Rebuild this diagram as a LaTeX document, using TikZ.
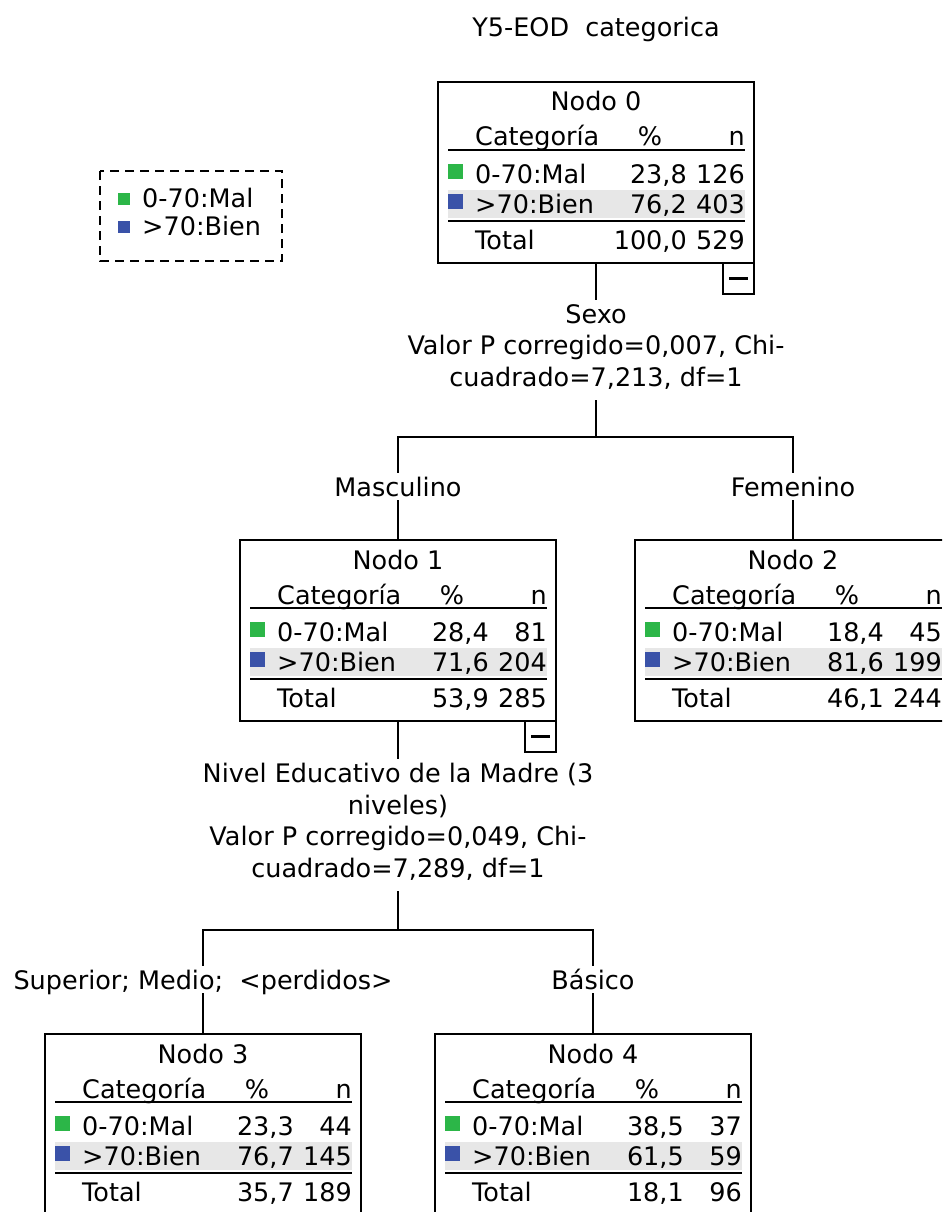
\documentclass[tikz,border=0pt]{standalone}
\usepackage{fontspec}
\setmainfont{DejaVu Sans}
\definecolor{catgreen}{RGB}{44,182,72}
\definecolor{catblue}{RGB}{58,82,168}
\definecolor{bandgray}{RGB}{231,231,231}
\tikzset{
  txt/.style={inner sep=0pt, font=\fontsize{25.5}{31.5}\selectfont},
  rulel/.style={line width=2pt},
  boxl/.style={draw, line width=2pt, minimum width=316pt, minimum height=181pt,
    inner sep=0pt, outer sep=0pt, anchor=north west},
  conn/.style={line width=2pt},
  catlab/.style={txt, inner ysep=4pt, inner xsep=2pt, text height=19pt, text depth=0pt, anchor=base},
  splitlab/.style={txt, align=center, inner ysep=4pt, inner xsep=2pt, anchor=north},
}
\newcommand\catnode[9]{%
  \begin{scope}[shift={(#2)}]
    \fill[bandgray] (10,108) rectangle (307,136);
    \node[boxl] (#1) at (0,0) {};
    \draw[rulel] (10,68) -- (307,68);
    \draw[rulel] (10,139) -- (307,139);
    \node[txt,anchor=base] at (158,29) {Nodo #3};
    \node[txt,anchor=base west] at (37,64) {Categoría};
    \node[txt,anchor=base] at (212,64) {\%};
    \node[txt,anchor=base east] at (307,64) {n};
    \fill[catgreen] (10,82) rectangle (25,97);
    \node[txt,anchor=base west] at (37,101) {0-70:Mal};
    \node[txt,anchor=base east] at (249,101) {#4};
    \node[txt,anchor=base east] at (307,101) {#5};
    \fill[catblue] (10,112) rectangle (25,127);
    \node[txt,anchor=base west] at (37,131) {>70:Bien};
    \node[txt,anchor=base east] at (249,131) {#6};
    \node[txt,anchor=base east] at (307,131) {#7};
    \node[txt,anchor=base west] at (37,167) {Total};
    \node[txt,anchor=base east] at (249,167) {#8};
    \node[txt,anchor=base east] at (307,167) {#9};
  \end{scope}}
\newcommand\minusbox[1]{%
  \draw[rulel] ([xshift=-31pt]#1.south east) rectangle ([yshift=-31pt]#1.south east);
  \draw[line width=2.6pt] ([xshift=-25pt,yshift=-15.5pt]#1.south east) -- ([xshift=-6pt,yshift=-15.5pt]#1.south east);}
\begin{document}
\begin{tikzpicture}[x=1pt,y=-1pt]
\fill[white] (0,0) rectangle (942,1212);
\useasboundingbox (0,0) rectangle (942,1212);
\clip (0,0) rectangle (942,1212);

\node[txt,anchor=base] (title) at (596,37) {Y5-EOD\ \ categorica};

% legend
\draw[line width=2pt, dash pattern=on 9pt off 6pt] (100,171) rectangle (282,261);
\fill[catgreen] (118,193) rectangle (130,205);
\node[txt,anchor=base west] (lg1) at (142,207) {0-70:Mal};
\fill[catblue] (118,221) rectangle (130,233);
\node[txt,anchor=base west] (lg2) at (142,235) {>70:Bien};

% nodes
\catnode{n0}{438,82}{0}{23,8}{126}{76,2}{403}{100,0}{529}
\minusbox{n0}
\catnode{n1}{240,540}{1}{28,4}{81}{71,6}{204}{53,9}{285}
\minusbox{n1}
\catnode{n2}{635,540}{2}{18,4}{45}{81,6}{199}{46,1}{244}
\catnode{n3}{45,1034}{3}{23,3}{44}{76,7}{145}{35,7}{189}
\catnode{n4}{435,1034}{4}{38,5}{37}{61,5}{59}{18,1}{96}

% first split
\node[splitlab] (s0) at (596,300) {Sexo\\Valor P corregido=0,007, Chi-\\cuadrado=7,213, df=1\rule[-10pt]{0pt}{10pt}};
\coordinate (h0) at (596,437);
\draw[conn] (n0.south) -- (s0.north);
\draw[conn] (s0.south) -- (h0);
\node[catlab] (m1) at (398,496) {Masculino};
\node[catlab] (m2) at (793,496) {Femenino};
\draw[conn] (m1.north) |- (h0) -| (m2.north);
\draw[conn] (m1.south) -- (n1.north);
\draw[conn] (m2.south) -- (n2.north);

% second split
\node[splitlab] (s1) at (398,759) {Nivel Educativo de la Madre (3\\niveles)\\Valor P corregido=0,049, Chi-\\cuadrado=7,289, df=1\rule[-10pt]{0pt}{10pt}};
\coordinate (h1) at (398,930);
\draw[conn] (n1.south) -- (s1.north);
\draw[conn] (s1.south) -- (h1);
\node[catlab] (m3) at (203,989) {Superior; Medio;\ \ <perdidos>};
\node[catlab] (m4) at (593,989) {Básico};
\draw[conn] (m3.north) |- (h1) -| (m4.north);
\draw[conn] (m3.south) -- (n3.north);
\draw[conn] (m4.south) -- (n4.north);
\end{tikzpicture}
\end{document}
